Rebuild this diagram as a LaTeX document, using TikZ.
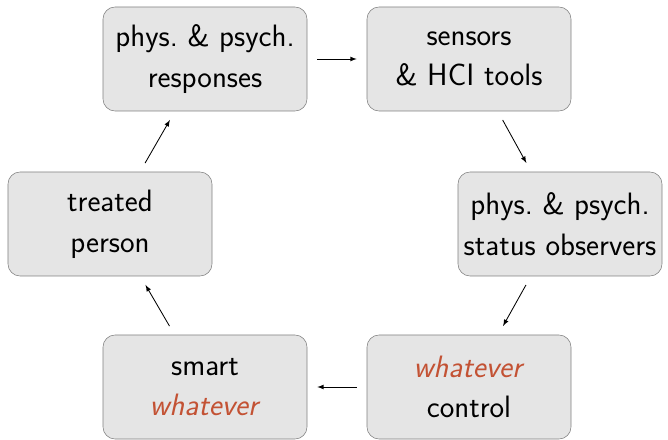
\documentclass[tikz,border=0pt]{standalone}
\usepackage{fontspec}
\usetikzlibrary{arrows}
\definecolor{rust}{RGB}{195,82,52}
\newcommand{\hl}[1]{\textcolor{rust}{\textit{#1}}}
\tikzset{
  stage/.style={draw=gray, fill=gray!20, rounded corners=.3cm, align=center,
    minimum width=5.1cm, minimum height=2.6cm,
    font=\sffamily\fontsize{22}{29}\selectfont},
  flow/.style={semithick, black, -latex, shorten >=.25cm, shorten <=.25cm}
}
\begin{document}
\begin{tikzpicture}
\useasboundingbox (0,0) rectangle (16.7,-11);
\node[stage] (resp) at (5.125,-1.475) {phys.\ \& psych.\\responses};
\node[stage] (sens) at (11.725,-1.475) {sensors\\\& HCI tools};
\node[stage] (obs) at (14,-5.6) {phys.\ \& psych.\\status observers};
\node[stage] (ctrl) at (11.725,-9.675) {\hl{whatever}\\control};
\node[stage] (smart) at (5.125,-9.675) {smart\\\hl{whatever}};
\node[stage] (pers) at (2.75,-5.6) {treated\\person};
\draw[flow] (resp) -- (sens);
\draw[flow] (sens) -- (obs);
\draw[flow] (obs) -- (ctrl);
\draw[flow] (ctrl) -- (smart);
\draw[flow] (smart) -- (pers);
\draw[flow] (pers) -- (resp);
\end{tikzpicture}
\end{document}
